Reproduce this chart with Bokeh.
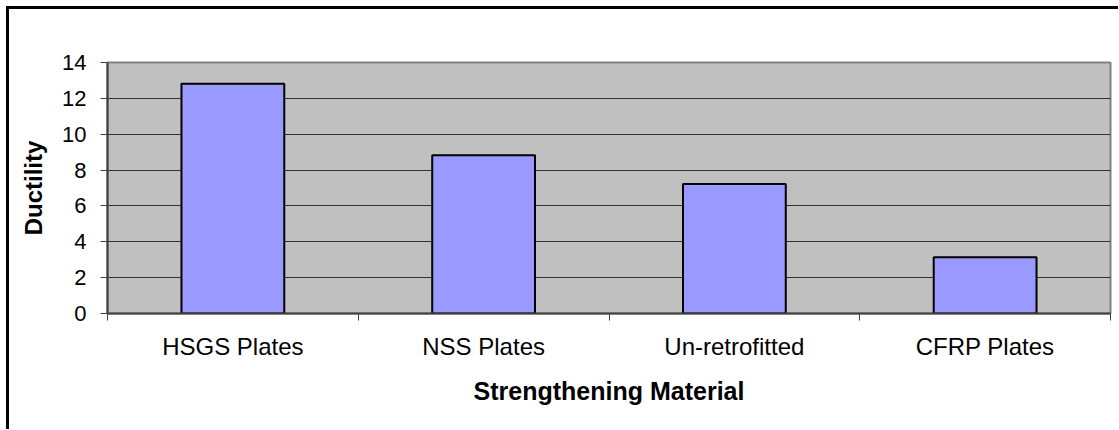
from bokeh.plotting import figure
from bokeh.models import Range1d, FixedTicker
from bokeh.embed import file_html
from bokeh.resources import INLINE
import numpy as np

categories = ["HSGS Plates", "NSS Plates", "Un-retrofitted", "CFRP Plates"]
ductility = [12.82, 8.82, 7.23, 3.14]
y_ticks = [0, 2, 4, 6, 8, 10, 12, 14]

n = len(categories)
x_centers = list(np.arange(n) + 0.5)
boundaries = list(range(n + 1))

p = figure(
    frame_width=1003, frame_height=251,
    min_border_left=98, min_border_top=53, min_border_right=8, min_border_bottom=116,
    x_range=Range1d(0, n), y_range=Range1d(0, 14),
    output_backend="svg", toolbar_location=None, tools="",
)
p.styles = {"border-top": "3px solid black", "border-left": "3px solid black",
            "margin-left": "6px", "margin-top": "6px"}

p.background_fill_color = "#C0C0C0"
p.border_fill_color = "white"
p.outline_line_color = "#808080"
p.outline_line_width = 2

p.vbar(x=x_centers, top=ductility, width=0.41, bottom=0,
       fill_color="#9999FF", line_color="black", line_width=2)

# x axis
xa = p.xaxis[0]
xa.ticker = FixedTicker(ticks=x_centers, minor_ticks=boundaries)
xa.major_label_overrides = {float(c): lab for c, lab in zip(x_centers, categories)}
xa.major_tick_line_color = None
xa.minor_tick_in = 0
xa.minor_tick_out = 7
xa.minor_tick_line_color = "#404040"
xa.axis_line_color = "#404040"
xa.axis_line_width = 2
xa.major_label_text_font = "Liberation Sans"
xa.major_label_text_font_size = "24px"
xa.major_label_text_color = "black"
xa.major_label_standoff = 12
xa.axis_label = "Strengthening Material"
xa.axis_label_text_font = "Liberation Sans"
xa.axis_label_text_font_style = "bold"
xa.axis_label_text_font_size = "25px"
xa.axis_label_text_color = "black"
xa.axis_label_standoff = 14

# y axis
ya = p.yaxis[0]
ya.ticker = FixedTicker(ticks=y_ticks)
ya.major_tick_in = 0
ya.major_tick_out = 7
ya.minor_tick_line_color = None
ya.major_tick_line_color = "#404040"
ya.axis_line_color = "#404040"
ya.axis_line_width = 2
ya.major_label_text_font = "Liberation Sans"
ya.major_label_text_font_size = "22px"
ya.major_label_text_color = "black"
ya.major_label_standoff = 14
ya.axis_label = "Ductility"
ya.axis_label_text_font = "Liberation Sans"
ya.axis_label_text_font_style = "bold"
ya.axis_label_text_font_size = "24px"
ya.axis_label_text_color = "black"
ya.axis_label_standoff = 12

p.xgrid.grid_line_color = None
p.ygrid.grid_line_color = "#303030"
p.ygrid.grid_line_width = 1

open("out.html", "w").write(file_html(p, INLINE))
